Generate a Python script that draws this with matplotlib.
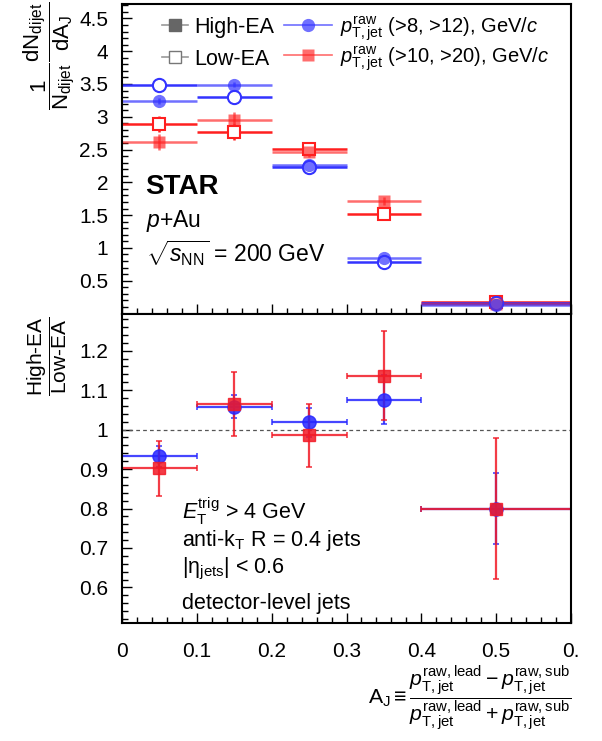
import numpy as np
import matplotlib
matplotlib.use("Agg")
import matplotlib.pyplot as plt
from matplotlib.lines import Line2D

plt.rcParams['font.family'] = ['Liberation Sans', 'DejaVu Sans']
plt.rcParams['mathtext.fontset'] = 'custom'
plt.rcParams['mathtext.rm'] = 'Liberation Sans'
plt.rcParams['mathtext.it'] = 'Liberation Sans:italic'
plt.rcParams['mathtext.bf'] = 'Liberation Sans:bold'
plt.rcParams['mathtext.default'] = 'regular'

# A_J bins
bin_lo = np.array([0.0, 0.1, 0.2, 0.3, 0.4])
bin_hi = np.array([0.1, 0.2, 0.3, 0.4, 0.6])

# upper panel: 1/N dN/dA_J
blue_high = [3.24, 3.49, 2.27, 0.85, 0.13]
blue_high_err = [0.04, 0.04, 0.03, 0.03, 0.01]
blue_low = [3.48, 3.30, 2.23, 0.79, 0.16]
blue_low_err = [0.04, 0.04, 0.03, 0.03, 0.01]
red_high = [2.61, 2.95, 2.47, 1.72, 0.145]
red_high_err = [0.12, 0.12, 0.08, 0.06, 0.02]
red_low = [2.89, 2.77, 2.51, 1.51, 0.18]
red_low_err = [0.12, 0.12, 0.08, 0.06, 0.02]

# lower panel: High-EA / Low-EA
blue_ratio = [0.932, 1.058, 1.018, 1.076, 0.80]
blue_ratio_err = [0.026, 0.029, 0.036, 0.061, 0.089]
red_ratio = [0.902, 1.065, 0.985, 1.136, 0.80]
red_ratio_err = [0.070, 0.081, 0.080, 0.113, 0.178]

x_ticks = [0, 0.1, 0.2, 0.3, 0.4, 0.5, 0.6]
x_tick_labels = ['0', '0.1', '0.2', '0.3', '0.4', '0.5', '0.']

blue = (0.2, 0.2, 1.0)
red = (1.0, 0.12, 0.12)
blue_light = (0.2, 0.2, 1.0, 0.7)
red_light = (1.0, 0.12, 0.12, 0.65)

W, H = 602, 741


def px(x, y):
    return x / W, 1 - y / H


fig = plt.figure(figsize=(W / 100, H / 100), dpi=100)
ax1 = fig.add_axes([122 / W, 1 - 313.5 / H, 449 / W, 309.5 / H])
ax2 = fig.add_axes([122 / W, 1 - 623 / H, 449 / W, 309.5 / H])

xc = (bin_lo + bin_hi) / 2
xe = (bin_hi - bin_lo) / 2

# upper panel
ax1.errorbar(xc, red_low, xerr=xe, yerr=red_low_err, fmt='s', color=red,
             mfc='white', mec=red, mew=1.5, ms=9, elinewidth=1.8, capsize=0)
ax1.errorbar(xc, blue_low, xerr=xe, yerr=blue_low_err, fmt='o', color=blue,
             mfc='white', mec=blue, mew=1.5, ms=9.5, elinewidth=1.8, capsize=0)
ax1.errorbar(xc, red_high, xerr=xe, yerr=red_high_err, fmt='s', color=red_light,
             mfc=red_light, mec='none', ms=9, elinewidth=1.8, capsize=0)
ax1.errorbar(xc, blue_high, xerr=xe, yerr=blue_high_err, fmt='o', color=blue_light,
             mfc=blue_light, mec='none', ms=9.5, elinewidth=1.8, capsize=0)

ax1.set_xlim(0, 0.6)
ax1.set_ylim(0, 4.72)
ax1.set_xticks(x_ticks)
ax1.set_xticklabels([])
ax1.set_xticks(np.arange(0, 0.601, 0.02), minor=True)
ax1.set_yticks([0.5, 1, 1.5, 2, 2.5, 3, 3.5, 4, 4.5])
ax1.set_yticklabels(['0.5', '1', '1.5', '2', '2.5', '3', '3.5', '4', '4.5'])
ax1.set_yticks(np.arange(0.1, 4.71, 0.1), minor=True)

# lower panel
ax2.axhline(1.0, color='#555555', lw=0.9, ls=(0, (3, 2.5)))
ax2.errorbar(xc, blue_ratio, xerr=xe, yerr=blue_ratio_err, fmt='o',
             color=(0.15, 0.15, 1.0, 0.85), ms=9.5, elinewidth=1.6, capsize=2.5,
             capthick=1.2)
ax2.errorbar(xc, red_ratio, xerr=xe, yerr=red_ratio_err, fmt='s',
             color=(0.95, 0.1, 0.15, 0.85), ms=9, elinewidth=1.6, capsize=2.5,
             capthick=1.2)
ax2.set_xlim(0, 0.6)
ax2.set_ylim(0.51, 1.294)
ax2.set_xticks(x_ticks)
ax2.set_xticklabels(x_tick_labels)
ax2.set_xticks(np.arange(0, 0.601, 0.02), minor=True)
ax2.set_yticks([0.6, 0.7, 0.8, 0.9, 1.0, 1.1, 1.2])
ax2.set_yticklabels(['0.6', '0.7', '0.8', '0.9', '1', '1.1', '1.2'])
ax2.set_yticks(np.arange(0.52, 1.29, 0.02), minor=True)

for ax in (ax1, ax2):
    for s in ax.spines.values():
        s.set_linewidth(1.5)
    ax.tick_params(which='both', direction='in', top=False, right=False,
                   labelsize=15, width=1.0)
    ax.tick_params(which='major', length=7)
    ax.tick_params(which='minor', length=4)
    ax.tick_params(axis='y', pad=10)
    ax.tick_params(axis='x', pad=14)

# legends
gray_handles = [
    Line2D([], [], color='#999999', lw=1.2, marker='s', ms=9,
           mfc='#666666', mec='#666666'),
    Line2D([], [], color='#999999', lw=1.2, marker='s', ms=9,
           mfc='white', mec='#777777', mew=1.0),
]
leg1 = ax1.legend(gray_handles, ['High-EA', 'Low-EA'], loc='upper left',
                  bbox_to_anchor=px(162, 17), bbox_transform=fig.transFigure,
                  frameon=False, fontsize=15.5, handlelength=1.2,
                  handletextpad=0.3, labelspacing=0.5, borderpad=0,
                  borderaxespad=0)
ax1.add_artist(leg1)
col_handles = [
    Line2D([], [], color=blue_light, lw=1.2, marker='o', ms=9.5,
           mfc=blue_light, mec='none'),
    Line2D([], [], color=red_light, lw=1.2, marker='s', ms=9,
           mfc=red_light, mec='none'),
]
col_labels = [
    r'$\mathit{p}_{T,jet}^{raw}$ (>8, >12), GeV/$\mathit{c}$',
    r'$\mathit{p}_{T,jet}^{raw}$ (>10, >20), GeV/$\mathit{c}$',
]
ax1.legend(col_handles, col_labels, loc='upper left',
           bbox_to_anchor=px(284, 14), bbox_transform=fig.transFigure,
           frameon=False, fontsize=14.5, handlelength=2.4,
           handletextpad=0.4, labelspacing=0.05, borderpad=0,
           borderaxespad=0)

# annotations, upper panel
fig.text(*px(145, 194), 'STAR', fontsize=20, fontweight='bold', va='baseline')
fig.text(*px(146, 227), r'$\mathit{p}$+Au', fontsize=16.5, va='baseline')
fig.text(*px(146, 262), r'$\sqrt{\mathit{s}_{NN}}$ = 200 GeV', fontsize=16.5,
         va='baseline')

# annotations, lower panel
fig.text(*px(182, 519), r'$\mathit{E}_{T}^{trig}$ > 4 GeV', fontsize=15.5,
         va='baseline')
fig.text(*px(182, 546), r'anti-k$_{T}$ R = 0.4 jets', fontsize=15.5,
         va='baseline')
fig.text(*px(182, 573), r'|$\eta_{jets}$| < 0.6', fontsize=15.5, va='baseline')
fig.text(*px(182, 609), 'detector-level jets', fontsize=15.5, va='baseline')

# axis titles
fig.text(*px(49, 56), r'$\dfrac{1}{N_{dijet}}\dfrac{dN_{dijet}}{dA_{J}}$',
         fontsize=16, rotation=90, ha='center', va='center')
fig.text(*px(47, 356), r'$\dfrac{\text{High-EA}}{\text{Low-EA}}$',
         fontsize=15, rotation=90, ha='center', va='center')
fig.text(*px(571, 698),
         r'$A_{J} \equiv \dfrac{\mathit{p}_{T,jet}^{raw,lead}-\mathit{p}_{T,jet}^{raw,sub}}'
         r'{\mathit{p}_{T,jet}^{raw,lead}+\mathit{p}_{T,jet}^{raw,sub}}$',
         fontsize=15.3, ha='right', va='center')

fig.savefig('out.png', dpi=100)
